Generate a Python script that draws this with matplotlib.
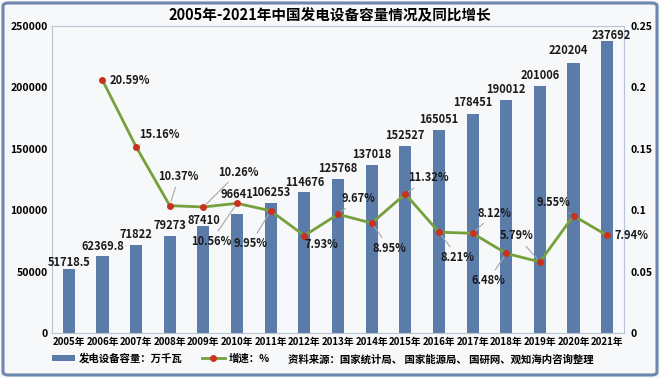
import matplotlib
matplotlib.use("Agg")
import matplotlib.pyplot as plt
from matplotlib.patches import FancyBboxPatch, Patch
from matplotlib.lines import Line2D
import numpy as np

plt.rcParams['font.family'] = ['Noto Sans CJK SC', 'DejaVu Sans']

years = ['2005年', '2006年', '2007年', '2008年', '2009年', '2010年', '2011年', '2012年',
         '2013年', '2014年', '2015年', '2016年', '2017年', '2018年', '2019年', '2020年', '2021年']
capacity = [51718.5, 62369.8, 71822, 79273, 87410, 96641, 106253, 114676,
            125768, 137018, 152527, 165051, 178451, 190012, 201006, 220204, 237692]
capacity_labels = ['51718.5', '62369.8', '71822', '79273', '87410', '96641', '106253', '114676',
                   '125768', '137018', '152527', '165051', '178451', '190012', '201006', '220204', '237692']
growth_years = years[1:]
growth = [0.2059, 0.1516, 0.1037, 0.1026, 0.1056, 0.0995, 0.0793, 0.0967,
          0.0895, 0.1132, 0.0821, 0.0812, 0.0648, 0.0579, 0.0955, 0.0794]
growth_labels = ['20.59%', '15.16%', '10.37%', '10.26%', '10.56%', '9.95%', '7.93%', '9.67%',
                 '8.95%', '11.32%', '8.21%', '8.12%', '6.48%', '5.79%', '9.55%', '7.94%']
title = '2005年-2021年中国发电设备容量情况及同比增长'
bar_name = '发电设备容量：万千瓦'
line_name = '增速：%'
source = '资料来源：国家统计局、 国家能源局、 国研网、观知海内咨询整理'

# styling / placement (pixels)
W, H = 660, 378
bg = '#f6f8fa'
bar_color = '#5b7ba8'
line_color = '#76a03c'
marker_color = '#c8321e'
bar_label_dy = [7, 10, 10, 10, 5, 20, 10, 10, 10, 10, 10, 11, 11, 10, 11, 12, 6]
bar_label_dx = [0, 0, 0, 0, 0, 0, 0, 0, 0, 0, 0, 0, 0, 0, 0, -5, 4]
pct_off = [(27, 0), (23, 12), (9, 29), (35, 35), (-26, -38), (-20, -33), (17, -9), (20, 16),
           (18, -25), (23, 16), (19, -25), (22, 20), (-18, -27), (-23, 26), (-20, 13), (24, 0)]
pct_leader = [False, True, True, True, True, True, False, True,
              True, True, True, True, True, True, True, False]

fig = plt.figure(figsize=(W / 100, H / 100), dpi=100)
fig.patch.set_facecolor(bg)

frame = FancyBboxPatch((3 / W, 3 / H), 1 - 6 / W, 1 - 6 / H,
                       boxstyle='round,pad=0,rounding_size=0.008',
                       transform=fig.transFigure, facecolor='none',
                       edgecolor='#6d87ae', lw=2.2)
fig.patches.append(frame)

left, right, top, bottom = 52, 624, 26, 333
ax = fig.add_axes([left / W, 1 - bottom / H, (right - left) / W, (bottom - top) / H])
ax.set_facecolor(bg)
x = np.arange(len(years))
ax.bar(x, capacity, width=0.36, color=bar_color, zorder=2)
ax.set_xlim(-0.5, len(years) - 0.5)
ax.set_ylim(0, 250000)
ax.set_yticks(np.arange(0, 250001, 50000))
ax.set_yticklabels([f'{v:d}' for v in range(0, 250001, 50000)], fontsize=7.5, fontweight='bold')
ax.set_xticks(x)
ax.set_xticklabels(years, fontsize=7, fontweight='bold')
ax.tick_params(length=0, pad=3)
for s in ax.spines.values():
    s.set_color('#b8c4d4')
    s.set_linewidth(0.8)

for i, (v, lab) in enumerate(zip(capacity, capacity_labels)):
    ax.annotate(lab, (x[i], v), xytext=(bar_label_dx[i], bar_label_dy[i]),
                textcoords='offset pixels', ha='center', va='center',
                fontsize=8, fontweight='bold', color='#1a1a1a', zorder=5)

ax2 = ax.twinx()
ax2.set_ylim(0, 0.25)
ax2.set_yticks([0, 0.05, 0.1, 0.15, 0.2, 0.25])
ax2.set_yticklabels(['0', '0.05', '0.1', '0.15', '0.2', '0.25'], fontsize=7.5, fontweight='bold')
ax2.tick_params(length=0, pad=5)
for s in ax2.spines.values():
    s.set_visible(False)
gx = x[1:]
ax2.plot(gx, growth, color=line_color, lw=2, zorder=3)
ax2.plot(gx, growth, 'o', color=marker_color, ms=4, zorder=4)
for i, (v, lab) in enumerate(zip(growth, growth_labels)):
    ap = dict(arrowstyle='-', color='#a8a8a8', lw=0.8, shrinkA=1, shrinkB=3) if pct_leader[i] else None
    ax2.annotate(lab, (gx[i], v), xytext=pct_off[i], textcoords='offset pixels',
                 ha='center', va='center', fontsize=8, fontweight='bold', color='#1a1a1a',
                 arrowprops=ap, zorder=6)

fig.text(0.5, 1 - 15 / H, title, ha='center', va='center', fontsize=10.5, fontweight='bold')

handles = [Patch(facecolor=bar_color, edgecolor='none'),
           Line2D([], [], color=line_color, lw=2, marker='o', markerfacecolor=marker_color,
                  markeredgecolor=marker_color, ms=4)]
leg = fig.legend(handles, [bar_name, line_name], loc='center left',
                 bbox_to_anchor=(50 / W, 1 - 358 / H), ncol=2, frameon=False,
                 prop={'size': 7.5, 'weight': 'bold'}, handlelength=2.2, handleheight=0.5,
                 columnspacing=1.8, handletextpad=0.4, borderaxespad=0, borderpad=0.2)
fig.text(288 / W, 1 - 360 / H, source, ha='left', va='center', fontsize=7.5, fontweight='bold')

fig.savefig('out.png', dpi=100, facecolor=bg)
